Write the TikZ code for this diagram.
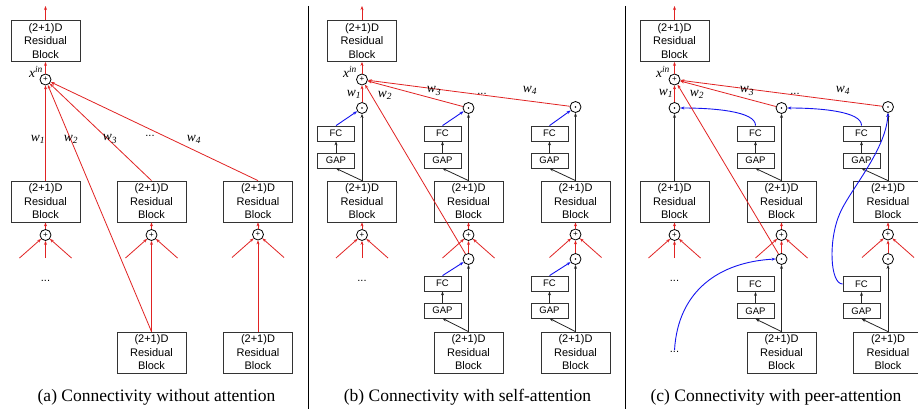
\documentclass[tikz,border=0pt]{standalone}
\usepackage{fontspec}
\setmainfont{Liberation Serif}
\setsansfont{Liberation Sans}
\usetikzlibrary{arrows.meta}
\definecolor{myred}{RGB}{225,35,35}
\definecolor{myblue}{RGB}{20,20,240}
\newcommand{\rb}{(2+1)D\\Residual\\Block}
\newcommand{\wlab}[1]{w\textsubscript{#1}}
\newcommand{\myfan}[1]{%
  \coordinate (#1L) at ([shift={(-26,23)}]#1.center);
  \coordinate (#1R) at ([shift={(26,23)}]#1.center);
  \draw[ra] (#1L) -- (#1);
  \draw[ra] (#1R) -- (#1);}
\tikzset{
  blk/.style={draw=black!80, line width=0.8pt, minimum width=69pt, minimum height=41pt, inner sep=0pt, align=center, font=\sffamily\fontsize{11}{13.5}\selectfont},
  smb/.style={draw=black!80, line width=0.8pt, minimum width=37pt, minimum height=15pt, inner sep=0pt, font=\sffamily\fontsize{9.5}{10}\selectfont},
  opn/.style={circle, draw=black, line width=0.8pt, minimum size=11pt, inner sep=0pt, font=\sffamily\fontsize{8}{8}\selectfont},
  mul/.style={opn, path picture={\fill[black] (path picture bounding box.center) circle (0.8pt);}},
  ra/.style={draw=myred, line width=0.8pt, -{Stealth[length=4pt,width=3pt]}},
  ka/.style={draw=black!85, line width=0.8pt, -{Stealth[length=4pt,width=3pt]}},
  ba/.style={draw=myblue, line width=0.9pt, -{Stealth[length=4pt,width=3pt]}},
  wl/.style={font=\itshape\fontsize{13.5}{14}\selectfont, inner sep=0pt},
  dts/.style={font=\sffamily\fontsize{11}{11}\selectfont, inner sep=1pt},
  capt/.style={font=\fontsize{17.5}{18}\selectfont, inner sep=0pt},
  sep/.style={draw=black, line width=1pt}
}
\begin{document}
\begin{tikzpicture}[x=1pt,y=-1pt]
\path[use as bounding box, clip] (0,0) rectangle (918,409);
\fill[white] (0,0) rectangle (918,409);
% separators
\draw[sep] (308.5,6) -- (308.5,409);
\draw[sep] (625,6) -- (625,409);

% ================= Panel (a) =================
\node[blk] (aT) at (45.5,41) {\rb};
\coordinate (aTo) at (45.5,6);
\draw[ra] (aT) -- (aTo);
\node[opn] (aP) at (45.5,79.5) {+};
\draw[ra] (aP) -- (aT);
\node[wl] (axin) at (36,72) {x\textsuperscript{in}};
\node[blk] (a1) at (45.5,201.5) {\rb};
\node[blk] (a2) at (151.5,201.5) {\rb};
\node[blk] (a3) at (258,201.5) {\rb};
\node[blk] (a2b) at (151.5,352.5) {\rb};
\node[blk] (a3b) at (258,352.5) {\rb};
\draw[ra] (a1) -- (aP);
\draw[ra] (a2.north) -- (aP);
\draw[ra] (a3.north) -- (aP);
\draw[ra] (a2b.north) -- (aP);
\node[wl] (aw1) at (38,139) {\wlab{1}};
\node[wl] (aw2) at (71,139) {\wlab{2}};
\node[wl] (aw3) at (110,139) {\wlab{3}};
\node[dts] (adt) at (150,136) {...};
\node[wl] (aw4) at (194,139) {\wlab{4}};
\node[opn] (a1p) at (45.5,235) {+};
\node[opn] (a2p) at (151.5,235) {+};
\node[opn] (a3p) at (258,234.5) {+};
\draw[ra] (a1p) -- (a1);
\draw[ra] (a2p) -- (a2);
\draw[ra] (a3p) -- (a3);
\myfan{a1p}
\myfan{a2p}
\myfan{a3p}
\coordinate (a1pC) at (45.5,258);
\draw[ra] (a1pC) -- (a1p);
\draw[ra] (a2b) -- (a2p);
\draw[ra] (a3b) -- (a3p);
\node[dts] (adl) at (45.5,281) {...};
\node[capt] (capa) at (156.5,397) {(a) Connectivity without attention};

% ================= Panel (b) =================
\node[blk] (bT) at (362,41) {\rb};
\coordinate (bTo) at (362,6);
\draw[ra] (bT) -- (bTo);
\node[opn] (bP) at (362,79.5) {+};
\draw[ra] (bP) -- (bT);
\node[wl] (bxin) at (350,72) {x\textsuperscript{in}};
\node[mul] (bd1) at (362,108) {};
\node[mul] (bd2) at (468.5,108) {};
\node[mul] (bd3) at (575.5,107) {};
\draw[ra] (bd1) -- (bP);
\draw[ra] (bd2) -- (bP);
\draw[ra] (bd3) -- (bP);
\node[wl] (bw1) at (354,94) {\wlab{1}};
\node[wl] (bw2) at (385,95) {\wlab{2}};
\node[wl] (bw3) at (434,91) {\wlab{3}};
\node[dts] (bdt) at (482,94) {...};
\node[wl] (bw4) at (530,90) {\wlab{4}};
\node[smb] (bF1) at (336,133.5) {FC};
\node[smb] (bG1) at (336,160.5) {GAP};
\node[smb] (bF2) at (442.5,133.5) {FC};
\node[smb] (bG2) at (442.5,160.5) {GAP};
\node[smb] (bF3) at (549.5,133.5) {FC};
\node[smb] (bG3) at (549.5,160.5) {GAP};
\node[blk] (b1) at (362,201.5) {\rb};
\node[blk] (b2) at (468.5,201.5) {\rb};
\node[blk] (b3) at (575.5,201.5) {\rb};
\foreach \i in {1,2,3}{
  \draw[ka] (b\i.north) -- (bd\i);
  \draw[ka] (b\i.north) -- (bG\i.south);
  \draw[ka] (bG\i) -- (bF\i);
  \draw[ba] (bF\i.north) -- (bd\i);
}
\node[opn] (bp1) at (362,235) {+};
\node[opn] (bp2) at (468.5,235) {+};
\node[opn] (bp3) at (575.5,234.5) {+};
\draw[ra] (bp1) -- (b1);
\draw[ra] (bp2) -- (b2);
\draw[ra] (bp3) -- (b3);
\myfan{bp1}
\myfan{bp2}
\myfan{bp3}
\coordinate (bp1C) at (362,258);
\draw[ra] (bp1C) -- (bp1);
\node[mul] (bq2) at (468.5,259) {};
\node[mul] (bq3) at (575.5,259) {};
\draw[ra] (bq2) -- (bp2);
\draw[ra] (bq3) -- (bp3);
\draw[ra] (bq2) -- (bP);
\node[smb] (bF2b) at (442.5,283.5) {FC};
\node[smb] (bG2b) at (442.5,310.5) {GAP};
\node[smb] (bF3b) at (549.5,283.5) {FC};
\node[smb] (bG3b) at (549.5,310.5) {GAP};
\node[blk] (b2b) at (468.5,352.5) {\rb};
\node[blk] (b3b) at (575.5,352.5) {\rb};
\foreach \i in {2,3}{
  \draw[ka] (b\i b.north) -- (bq\i);
  \draw[ka] (b\i b.north) -- (bG\i b.south);
  \draw[ka] (bG\i b) -- (bF\i b);
  \draw[ba] (bF\i b.north) -- (bq\i);
}
\node[dts] (bdl) at (362,281) {...};
\node[capt] (capb) at (467.5,397) {(b) Connectivity with self-attention};

% ================= Panel (c) =================
\node[blk] (cT) at (674.5,41) {\rb};
\coordinate (cTo) at (674.5,6);
\draw[ra] (cT) -- (cTo);
\node[opn] (cP) at (674.5,79.5) {+};
\draw[ra] (cP) -- (cT);
\node[wl] (cxin) at (663,72) {x\textsuperscript{in}};
\node[mul] (cd1) at (674.5,108) {};
\node[mul] (cd2) at (781.5,108) {};
\node[mul] (cd3) at (888,107) {};
\draw[ra] (cd1) -- (cP);
\draw[ra] (cd2) -- (cP);
\draw[ra] (cd3) -- (cP);
\node[wl] (cw1) at (666,93) {\wlab{1}};
\node[wl] (cw2) at (697,94) {\wlab{2}};
\node[wl] (cw3) at (747,91) {\wlab{3}};
\node[dts] (cdt) at (795,94) {...};
\node[wl] (cw4) at (843,90) {\wlab{4}};
\node[smb] (cF2) at (755.5,133.5) {FC};
\node[smb] (cG2) at (755.5,160.5) {GAP};
\node[smb] (cF3) at (861.5,133.5) {FC};
\node[smb] (cG3) at (861.5,160.5) {GAP};
\node[blk] (c1) at (674.5,201.5) {\rb};
\node[blk] (c2) at (781.5,201.5) {\rb};
\node[blk] (c3) at (888,201.5) {\rb};
\draw[ka] (c1) -- (cd1);
\foreach \i in {2,3}{
  \draw[ka] (c\i.north) -- (cd\i);
  \draw[ka] (c\i.north) -- (cG\i.south);
  \draw[ka] (cG\i) -- (cF\i);
}
\draw[ba] (cF2.north) .. controls (756,111) and (712,108) .. (cd1.east);
\draw[ba] (cF3.north) .. controls (862,111) and (818,108) .. (cd2.east);
\node[opn] (cp1) at (674.5,235) {+};
\node[opn] (cp2) at (781.5,235) {+};
\node[opn] (cp3) at (888,234.5) {+};
\draw[ra] (cp1) -- (c1);
\draw[ra] (cp2) -- (c2);
\draw[ra] (cp3) -- (c3);
\myfan{cp1}
\myfan{cp2}
\myfan{cp3}
\coordinate (cp1C) at (674.5,258);
\draw[ra] (cp1C) -- (cp1);
\node[mul] (cq2) at (781.5,259) {};
\node[mul] (cq3) at (888,259) {};
\draw[ra] (cq2) -- (cp2);
\draw[ra] (cq3) -- (cp3);
\draw[ra] (cq2) -- (cP);
\node[smb] (cF2b) at (755.5,284) {FC};
\node[smb] (cG2b) at (755.5,311) {GAP};
\node[smb] (cF3b) at (861.5,284) {FC};
\node[smb] (cG3b) at (861.5,311) {GAP};
\node[blk] (c2b) at (781.5,352.5) {\rb};
\node[blk] (c3b) at (888,352.5) {\rb};
\foreach \i in {2,3}{
  \draw[ka] (c\i b.north) -- (cq\i);
  \draw[ka] (c\i b.north) -- (cG\i b.south);
  \draw[ka] (cG\i b) -- (cF\i b);
}
\node[dts] (cdl1) at (674.5,281) {...};
\node[dts] (cdl2) at (674.5,352) {...};
\draw[ba] (cF3b.west) .. controls (830,284) and (828,240) .. (840,213) .. controls (850,190) and (886,150) .. (cd3.south);
\draw[ba] (cdl2.north) .. controls (678,290) and (720,262) .. (cq2.west);
\node[capt] (capc) at (776,397) {(c) Connectivity with peer-attention};
\end{tikzpicture}
\end{document}
